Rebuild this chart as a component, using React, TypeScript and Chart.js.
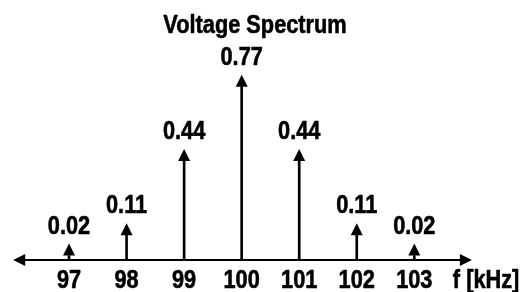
import React, { useEffect, useRef } from 'react';
import { Chart, registerables } from 'chart.js';

Chart.register(...registerables);

const frequencies = [97, 98, 99, 100, 101, 102, 103];
const amplitudes = [0.02, 0.11, 0.44, 0.77, 0.44, 0.11, 0.02];
const tickLabels = ['97', '98', '99', '100', '101', '102', '103'];
const chartTitle = 'Voltage Spectrum';
const axisUnit = 'f [kHz]';

const FONT = '"Liberation Sans", Arial, Helvetica, sans-serif';
const NARROW = 0.87;

function drawText(ctx: CanvasRenderingContext2D, text: string, x: number, y: number, align: CanvasTextAlign) {
  ctx.save();
  ctx.translate(x, y);
  ctx.scale(NARROW, 1);
  ctx.font = `bold 25px ${FONT}`;
  ctx.textAlign = align;
  ctx.textBaseline = 'alphabetic';
  ctx.fillStyle = '#000';
  ctx.strokeStyle = '#000';
  ctx.lineWidth = 0.6;
  ctx.lineJoin = 'round';
  ctx.fillText(text, 0, 0);
  ctx.strokeText(text, 0, 0);
  ctx.restore();
}

const spectrumPlugin = {
  id: 'spectrum',
  afterDatasetsDraw(chart: any) {
    const { ctx, chartArea } = chart;
    const xs = chart.scales.x;
    const ys = chart.scales.y;
    const y0 = ys.getPixelForValue(0);
    ctx.save();
    ctx.fillStyle = '#000';
    ctx.strokeStyle = '#000';
    ctx.lineWidth = 2;
    // horizontal axis with arrows at both ends
    const L = chartArea.left;
    const R = chartArea.right;
    ctx.beginPath();
    ctx.moveTo(L + 8, y0);
    ctx.lineTo(R - 8, y0);
    ctx.stroke();
    ctx.beginPath();
    ctx.moveTo(L, y0);
    ctx.lineTo(L + 12, y0 - 6);
    ctx.lineTo(L + 12, y0 + 6);
    ctx.closePath();
    ctx.fill();
    ctx.beginPath();
    ctx.moveTo(R, y0);
    ctx.lineTo(R - 12, y0 - 6);
    ctx.lineTo(R - 12, y0 + 6);
    ctx.closePath();
    ctx.fill();

    // arrow heads + value labels
    const meta = chart.getDatasetMeta(0);
    meta.data.forEach((bar: any, i: number) => {
      const x = bar.x;
      const yTop = bar.y;
      const head = 12;
      const half = 6;
      ctx.beginPath();
      ctx.moveTo(x, yTop - head);
      ctx.lineTo(x - half, yTop);
      ctx.lineTo(x + half, yTop);
      ctx.closePath();
      ctx.fill();
      drawText(ctx, amplitudes[i].toFixed(2), x, yTop - head - 10, 'center');
    });

    // tick labels
    frequencies.forEach((f, i) => {
      drawText(ctx, tickLabels[i], xs.getPixelForValue(f), y0 + 28, 'center');
    });

    // title
    drawText(ctx, chartTitle, chart.width / 2 - 7, 33, 'center');

    // unit label at end of axis
    drawText(ctx, axisUnit, R - 19, y0 + 28, 'left');
    ctx.restore();
  },
};

export default function App() {
  const canvasRef = useRef<HTMLCanvasElement | null>(null);

  useEffect(() => {
    const canvas = canvasRef.current;
    if (!canvas) return;
    const chart = new Chart(canvas, {
      type: 'bar',
      data: {
        datasets: [
          {
            data: frequencies.map((f, i) => ({ x: f, y: amplitudes[i] })),
            backgroundColor: '#000',
            borderWidth: 0,
            barThickness: 2,
          },
        ],
      },
      options: {
        responsive: false,
        animation: false,
        events: [],
        layout: { padding: { left: 13.2, right: 52.15, top: 35, bottom: 32 } },
        plugins: {
          legend: { display: false },
          tooltip: { enabled: false },
          title: { display: false },
        },
        scales: {
          x: {
            type: 'linear',
            display: false,
            min: 96.03,
            max: 104,
            offset: false,
          },
          y: {
            display: false,
            min: 0,
            max: 1,
          },
        },
      },
      plugins: [spectrumPlugin],
    } as any);
    return () => chart.destroy();
  }, []);

  return (
    <div style={{ position: 'absolute', left: 0, top: 0, width: 524, height: 292, background: '#fff' }}>
      <canvas ref={canvasRef} width={524} height={292} />
    </div>
  );
}
